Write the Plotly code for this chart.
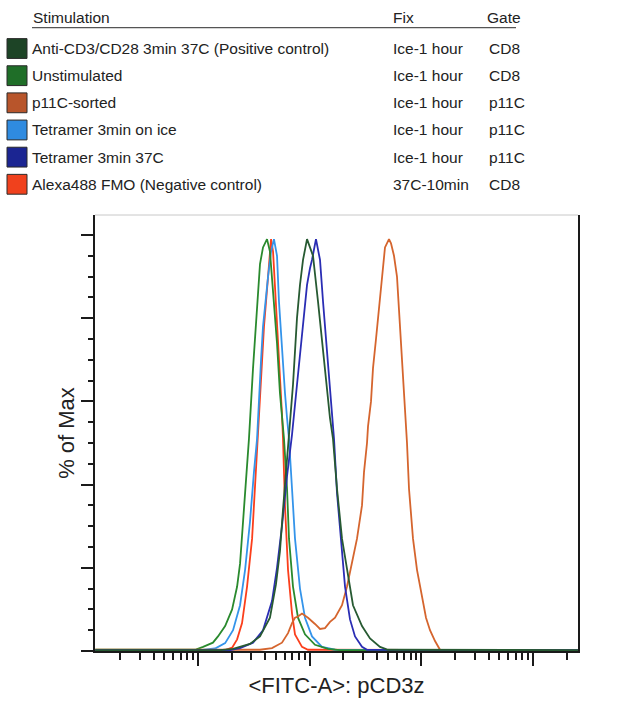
import plotly.graph_objects as go

# ---------------- data ----------------
stimulation = ["Anti-CD3/CD28 3min 37C (Positive control)", "Unstimulated", "p11C-sorted",
               "Tetramer 3min on ice", "Tetramer 3min 37C", "Alexa488 FMO (Negative control)"]
fix = ["Ice-1 hour", "Ice-1 hour", "Ice-1 hour", "Ice-1 hour", "Ice-1 hour", "37C-10min"]
gate = ["CD8", "CD8", "p11C", "p11C", "p11C", "CD8"]
swatch_colors = ["#1d4426", "#1f6e28", "#b8552b", "#2f8be0", "#1b2592", "#f0411d"]
line_colors = ["#275a32", "#2a8a2e", "#d5652e", "#3494ea", "#2a2db4", "#fb3f1c"]

# FITC-A intensity (x) and % of Max (y)
anti_x = [12, 157, 206, 292, 359, 441, 499, 542, 577, 614, 653, 709, 770, 819, 872, 947, 1007, 1071,
          1188, 1317, 1521, 1618, 1757, 1948, 2204, 2444, 2942, 3471, 4265, 5029, 252900]
anti_y = [0.2, 0.2, 0.5, 1.7, 3.5, 8, 16, 24, 34, 44, 52, 64, 80, 88, 94, 99, 97, 95,
          84, 72, 56, 51, 39, 27, 18, 11, 6, 3, 1, 0.3, 0.2]

unstim_x = [12, 94, 111, 136, 151, 175, 202, 224, 238, 253, 275, 286, 311, 338, 359, 382, 415, 441,
            470, 510, 542, 589, 627, 653, 709, 786, 908, 1116, 1459, 1870, 252900]
unstim_y = [0.3, 0.3, 1, 2, 3.5, 6, 10, 15.5, 21, 31, 43, 51, 68, 82, 93, 97, 99, 96,
            86, 74, 62, 51, 39, 27, 15.5, 8, 4, 1.5, 0.5, 0.2, 0.2]

p11c_x = [12, 359, 460, 565, 640, 695, 739, 786, 854, 908, 966, 1116, 1238, 1372, 1521, 1687, 1948,
          2160, 2394, 2654, 2942, 3066, 3262, 3331, 3542, 3692, 3927, 4178, 4444, 4727, 5133, 5350,
          5690, 6054, 6310, 6576, 6853, 7142, 7441, 7754, 8422, 9146, 10138, 11010, 11958, 13260,
          14700, 252900]
p11c_y = [0.3, 0.3, 0.7, 2, 4.3, 6.7, 8, 8.3, 9, 8.5, 8, 6.5, 5.3, 5.5, 7, 8, 11,
          15.5, 21, 27, 35, 43, 50, 54, 60, 68, 75, 83, 90, 97, 99, 98,
          95, 90, 82, 74, 66, 58, 50, 39, 27, 19.5, 13, 8, 5, 2.4,
          0.3, 0.2]

ice_x = [12, 104, 142, 175, 206, 238, 264, 292, 317, 338, 367, 382, 424, 451, 479, 510, 531, 565,
         601, 627, 653, 695, 739, 819, 908, 1049, 1290, 1687, 252900]
ice_y = [0.2, 0.2, 0.6, 1.9, 5, 11, 19.5, 31, 43, 51, 70, 78, 90, 96, 99, 95, 84, 72,
         62, 56, 51, 39, 27, 15, 8, 3.5, 1, 0.3, 0.2]

t37_x = [12, 193, 238, 311, 382, 460, 510, 565, 627, 695, 770, 872, 947, 1007, 1049, 1139, 1238,
         1317, 1430, 1585, 1652, 1757, 1948, 2073, 2297, 2547, 2942, 3262, 252900]
t37_y = [0.2, 0.2, 0.7, 2, 5, 12, 20, 30, 42, 52, 64, 78, 88, 92, 94, 99, 94,
         84, 72, 56, 51, 38, 23, 15.5, 7.6, 3.5, 1, 0.3, 0.2]

fmo_x = [12, 175, 202, 224, 248, 275, 305, 324, 345, 367, 390, 424, 441, 451, 470, 489, 520, 542,
         565, 577, 601, 640, 695, 739, 854, 966, 252900]
fmo_y = [0.2, 0.2, 0.8, 2.8, 6.7, 15.5, 27, 39, 51, 66, 78, 90, 96, 99, 96, 88, 76, 66,
         57, 51, 35, 19.5, 9, 4, 1, 0.3, 0.2]

series_x = [anti_x, unstim_x, p11c_x, ice_x, t37_x, fmo_x]
series_y = [anti_y, unstim_y, p11c_y, ice_y, t37_y, fmo_y]

major_ticks = [1e2, 1e3, 1e4, 1e5]
minor_ticks = [m * 10 ** k for k in range(1, 6) for m in range(2, 10) if m * 10 ** k < 2.6e5]

# ---------------- figure ----------------
W, H = 636, 704
L, R, T, B = 95, 58, 215, 49
PW, PH = W - L - R, H - T - B


def px(x):  # layout helper: pixel -> paper x
    return (x - L) / PW


def py(y):  # layout helper: pixel -> paper y
    return (H - B - y) / PH


FONT = "Liberation Sans, Arial, Helvetica, sans-serif"

fig = go.Figure()
draw_order = [5, 3, 1, 2, 4, 0]
for i in draw_order:
    fig.add_trace(go.Scatter(x=series_x[i], y=series_y[i], mode="lines", name=stimulation[i],
                             line=dict(color=line_colors[i], width=1.8), showlegend=False,
                             hoverinfo="skip"))

fig.update_layout(
    width=W, height=H,
    margin=dict(l=L, r=R, t=T, b=B),
    paper_bgcolor="white", plot_bgcolor="white",
    showlegend=False,
    font=dict(family=FONT, color="#222222"),
)

fig.update_xaxes(
    type="log", range=[1.0776, 5.403],
    showline=True, linecolor="#1a1a1a", linewidth=2, mirror=False,
    ticks="outside", tickvals=major_ticks, ticklen=13, tickwidth=2, tickcolor="#1a1a1a",
    showticklabels=False, showgrid=False, zeroline=False,
    minor=dict(tickvals=minor_ticks, ticks="outside", ticklen=7, tickwidth=1.5,
               tickcolor="#1a1a1a", showgrid=False),
    title=dict(text="&lt;FITC-A&gt;: pCD3z", font=dict(size=22, family=FONT, color="#222222"),
               standoff=13),
)

fig.update_yaxes(
    range=[0, 104.8],
    showline=True, linecolor="#1a1a1a", linewidth=2, mirror=True,
    ticks="outside", tickvals=[0, 20, 40, 60, 80, 100], ticklen=12, tickwidth=2, tickcolor="#1a1a1a",
    showticklabels=False, showgrid=False, zeroline=False,
    minor=dict(dtick=5, ticks="outside", ticklen=5, tickwidth=1.5, tickcolor="#1a1a1a",
               showgrid=False),
    title=dict(text="% of Max", font=dict(size=22, family=FONT, color="#222222"), standoff=0),
)

shapes = [
    # faint top border of the plot frame
    dict(type="line", xref="paper", yref="paper", x0=0, x1=1, y0=1, y1=1,
         line=dict(color="#c8c8c8", width=1)),
    # legend header underline
    dict(type="line", xref="paper", yref="paper", x0=px(32), x1=px(516), y0=py(26), y1=py(26),
         line=dict(color="#555555", width=1.2)),
]
annotations = []

header_y = 16
annotations.append(dict(text="Stimulation", x=px(31), y=py(header_y)))
annotations.append(dict(text="Fix", x=px(391), y=py(header_y)))
annotations.append(dict(text="Gate", x=px(485), y=py(header_y)))

for i in range(len(stimulation)):
    yc = 47 + 27.4 * i
    shapes.append(dict(type="rect", xref="paper", yref="paper",
                       x0=px(7), x1=px(27), y0=py(yc + 10), y1=py(yc - 10),
                       fillcolor=swatch_colors[i], line=dict(color="#2a2a2a", width=1)))
    annotations.append(dict(text=stimulation[i], x=px(30), y=py(yc)))
    annotations.append(dict(text=fix[i], x=px(391), y=py(yc)))
    annotations.append(dict(text=gate[i], x=px(487), y=py(yc)))

for a in annotations:
    a.update(xref="paper", yref="paper", xanchor="left", yanchor="middle", showarrow=False,
             font=dict(size=15.5, family=FONT, color="#222222"))

fig.update_layout(shapes=shapes, annotations=annotations)

fig.write_html("out.html", config={"displayModeBar": False},
               post_script="document.body.style.margin='0';")
